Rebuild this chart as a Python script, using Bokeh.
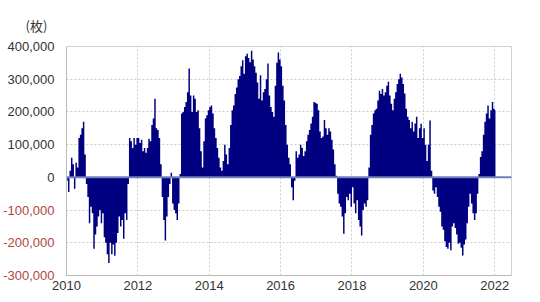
from bokeh.plotting import figure
from bokeh.models import Range1d, FixedTicker, NumeralTickFormatter, Span, LinearAxis, Title
from bokeh.embed import file_html
from bokeh.resources import INLINE

# half-monthly net positions (枚)
v2010 = [-10000, -45000, 20000, 60000, 40000, -35000, 45000, 30000, 120000, 130000, 150000, 170000,
         70000, -20000, -60000, -140000, -90000, -110000, -218000, -175000, -150000, -120000, -100000, -140000]
v2011 = [-110000, -183000, -200000, -235000, -262000, -200000, -235000, -205000, -240000, -200000, -170000, -120000,
         -150000, -130000, -188000, -110000, -130000, -20000, 120000, 110000, 90000, 120000, 100000, 120000]
v2012 = [120000, 105000, 115000, 80000, 90000, 75000, 90000, 118000, 110000, 160000, 180000, 240000,
         150000, 145000, 120000, 40000, -60000, -130000, -193000, -120000, -60000, -20000, 14000, -80000]
v2013 = [-100000, -110000, -130000, -80000, 10000, 195000, 200000, 215000, 230000, 260000, 333000, 250000,
         200000, 250000, 240000, 200000, 205000, 150000, 80000, 30000, 110000, 180000, 190000, 205000]
v2014 = [215000, 220000, 195000, 150000, 120000, 90000, 60000, 30000, 20000, 50000, 100000, 70000,
         40000, 90000, 160000, 205000, 220000, 255000, 275000, 300000, 310000, 340000, 358000, 317000]
v2015 = [370000, 378000, 365000, 352000, 387000, 360000, 340000, 320000, 290000, 240000, 312000, 235000,
         260000, 270000, 300000, 348000, 250000, 215000, 200000, 185000, 280000, 350000, 382000, 360000]
v2016 = [340000, 280000, 235000, 160000, 100000, 60000, 40000, -30000, -70000, -10000, 80000, 60000,
         70000, 100000, 90000, 65000, 80000, 110000, 130000, 145000, 165000, 185000, 230000, 228000]
v2017 = [225000, 205000, 140000, 120000, 125000, 175000, 150000, 130000, 150000, 140000, 115000, 85000,
         40000, 5000, -50000, -80000, -90000, -120000, -172000, -110000, -60000, -70000, -50000, -90000]
v2018 = [-30000, -80000, -110000, -70000, -130000, -150000, -178000, -100000, -80000, -90000, -70000, 30000,
         130000, 160000, 195000, 205000, 210000, 235000, 265000, 255000, 270000, 250000, 260000, 280000]
v2019 = [292000, 250000, 225000, 205000, 240000, 260000, 285000, 300000, 317000, 305000, 285000, 256000,
         210000, 185000, 175000, 150000, 170000, 140000, 165000, 185000, 120000, 150000, 164000, 120000]
v2020 = [150000, 100000, 50000, 100000, 174000, 20000, -40000, -50000, -30000, -60000, -90000, -105000,
         -150000, -160000, -195000, -213000, -218000, -200000, -223000, -150000, -140000, -155000, -175000, -203000]
v2021 = [-200000, -215000, -239000, -205000, -190000, -140000, -90000, -50000, -80000, -110000, -130000, -110000,
         -50000, 10000, 62000, 80000, 130000, 170000, 195000, 220000, 180000, 205000, 230000, 210000]
v2022 = [205000]

x_ticks = [2010, 2012, 2014, 2016, 2018, 2020, 2022]
y_ticks_pos = [0, 100000, 200000, 300000, 400000]
y_ticks_neg = [-300000, -200000, -100000]
unit_label = "(枚)"

values = v2010 + v2011 + v2012 + v2013 + v2014 + v2015 + v2016 + v2017 + v2018 + v2019 + v2020 + v2021 + v2022
t = [2010 + (i + 0.5) / 24 for i in range(len(values))]

FONT = "Liberation Sans"
CJK = "Noto Sans CJK JP"
X0, X1 = 2010, 2022.47

p = figure(width=540, height=302, output_backend="svg", toolbar_location=None,
           x_range=Range1d(X0, X1), y_range=Range1d(-300000, 400000),
           min_border_left=66, min_border_right=29, min_border_top=46, min_border_bottom=27)
p.background_fill_color = "white"
p.border_fill_color = "white"
p.outline_line_color = "#d0d0d0"

p.varea_step(x=t, y1=[0] * len(values), y2=values, step_mode="center", fill_color="#000080")

p.add_layout(Span(location=0, dimension="width", line_color="#6f7fb8", line_width=2))

neg_axis = LinearAxis()
p.add_layout(neg_axis, "left")

p.xaxis.ticker = FixedTicker(ticks=x_ticks)
p.xgrid.ticker = FixedTicker(ticks=x_ticks)
p.ygrid.ticker = FixedTicker(ticks=y_ticks_neg + y_ticks_pos)
p.grid.grid_line_color = "#cccccc"
p.grid.grid_line_dash = "2 2"

pos_axis = p.yaxis[0]
pos_axis.ticker = FixedTicker(ticks=y_ticks_pos)
neg_axis.ticker = FixedTicker(ticks=y_ticks_neg)

for ax in (p.xaxis[0], pos_axis, neg_axis):
    ax.axis_line_color = "#bbbbbb"
    ax.major_tick_line_color = None
    ax.minor_tick_line_color = None
    ax.major_tick_out = 0
    ax.major_tick_in = 0
    ax.major_label_text_font = FONT
    ax.major_label_text_font_size = "13px"
    ax.major_label_text_color = "#333333"
for ax in (pos_axis, neg_axis):
    ax.formatter = NumeralTickFormatter(format="0,0")
pos_axis.major_label_standoff = 12
neg_axis.major_label_standoff = -50
neg_axis.axis_line_color = None
neg_axis.major_label_text_color = "#b0483c"
p.xaxis.major_label_standoff = 5

p.add_layout(Title(text=unit_label, align="left", offset=-41, standoff=24,
                   text_font=CJK, text_font_size="13px", text_font_style="normal",
                   text_color="#333333"), "above")

open("out.html", "w").write(file_html(p, INLINE))
